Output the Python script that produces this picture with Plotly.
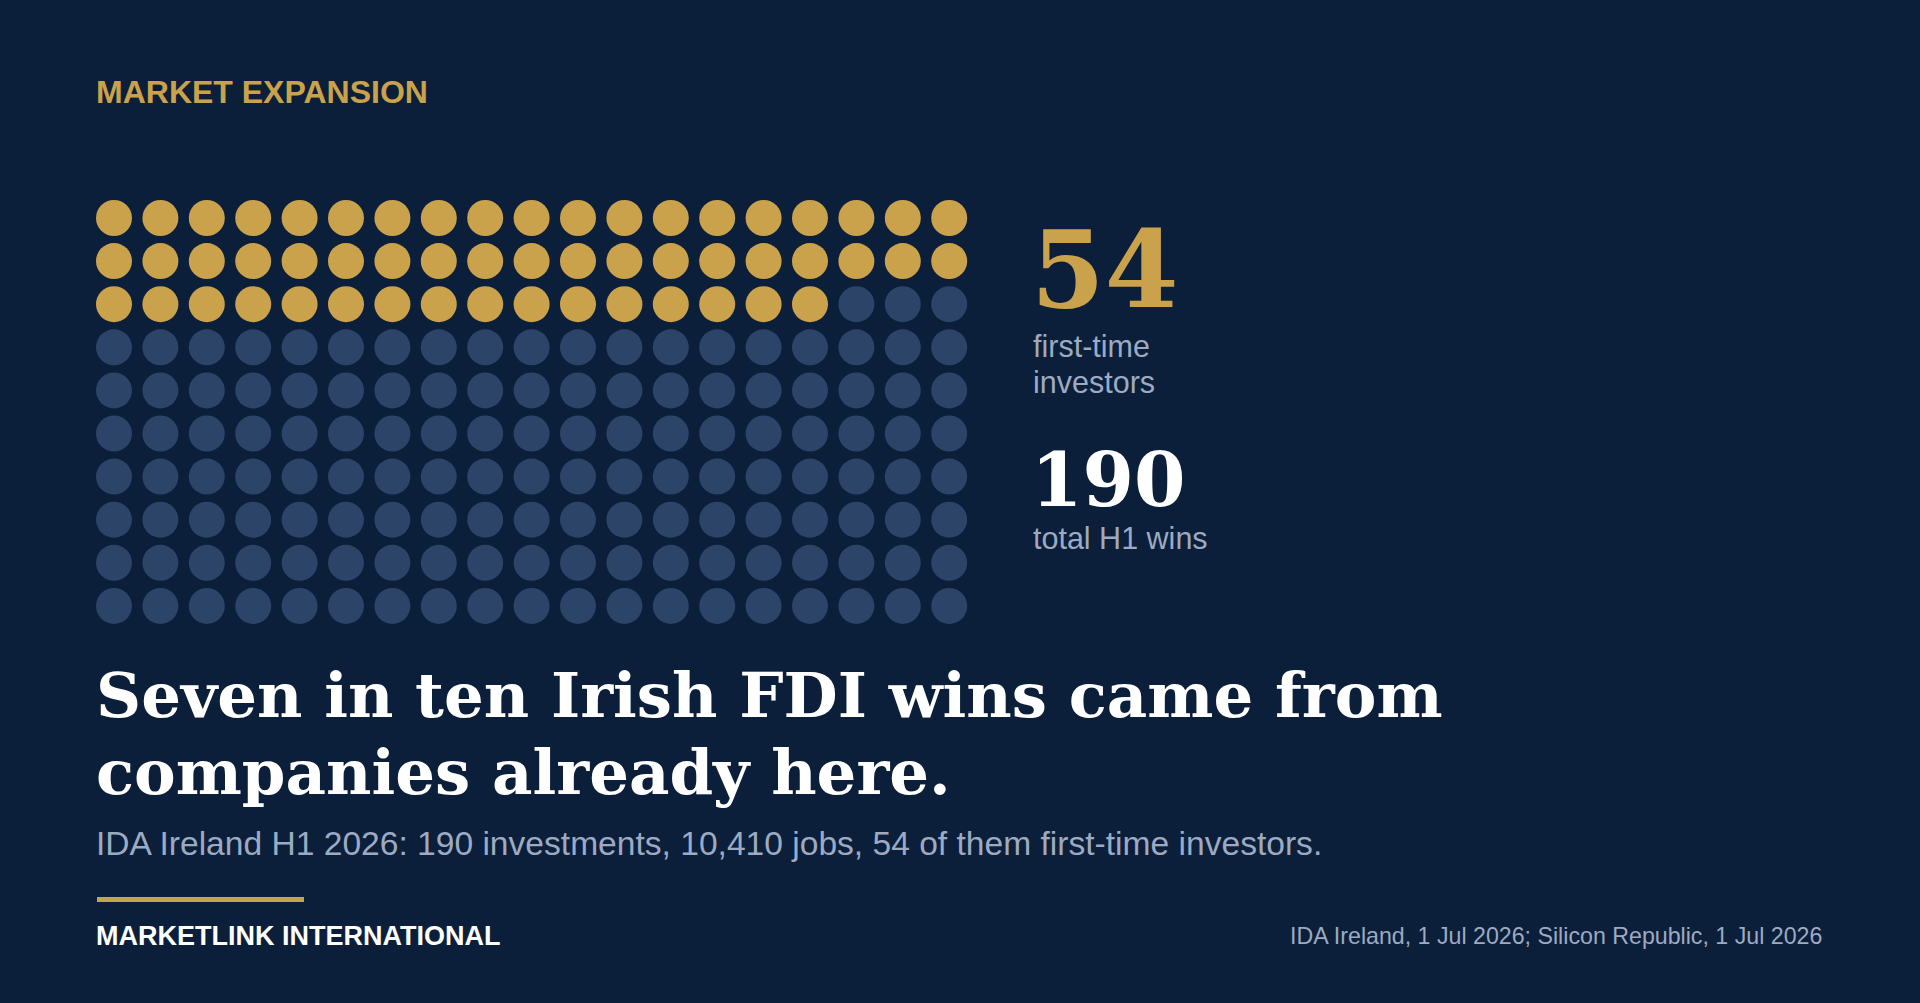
import plotly.graph_objects as go

# --- data ---
total_wins = 190
first_time = 54
grid_cols = 19
stat_values = ["54", "190"]
stat_labels = [["first-time", "investors"], ["total H1 wins"]]
kicker = "MARKET EXPANSION"
title_lines = ["Seven in ten Irish FDI wins came from", "companies already here."]
subtitle = "IDA Ireland H1 2026: 190 investments, 10,410 jobs, 54 of them first-time investors."
brand = "MARKETLINK INTERNATIONAL"
source = "IDA Ireland, 1 Jul 2026; Silicon Republic, 1 Jul 2026"

# --- look ---
W, H = 1920, 1003
BG = "#0B1F3A"
GOLD = "#C9A24B"
DOT_OFF = "#2B4468"
MUTED = "#9DAAC1"
WHITE = "#FFFFFF"
SANS = "Liberation Sans, Arial, sans-serif"
SERIF = "DejaVu Serif, serif"

# waffle grid placement (pixels)
GX0, GY0 = 114, 218      # centre of first dot
DX, DY = 46.4, 43.1       # spacing between dot centres
DOT = 36

idx = list(range(total_wins))
cols = [i % grid_cols for i in idx]
rows = [i // grid_cols for i in idx]
colors = [GOLD if i < first_time else DOT_OFF for i in idx]

fig = go.Figure()
fig.add_trace(go.Scatter(
    x=cols, y=rows, mode="markers",
    marker=dict(size=DOT, color=colors, line=dict(width=0)),
    hoverinfo="skip", showlegend=False,
))


def px(x):
    return x / W


def py(y):
    return 1 - y / H


def note(text, x, y, size, color, family=SANS, bold=False, xanchor="left"):
    # annotations carry ~2px of padding, pull them back so glyphs sit on x
    x = x - 2 if xanchor == "left" else x + 2
    fig.add_annotation(
        text=text, x=px(x), y=py(y), xref="paper", yref="paper",
        xanchor=xanchor, yanchor="middle", align=xanchor,
        showarrow=False, borderpad=0,
        font=dict(size=size, color=color, family=family, weight="bold" if bold else "normal"),
    )


note(kicker, 97, 92, 32, GOLD, bold=True)

# big stats to the right of the grid
note(stat_values[0], 1032, 269, 106, GOLD, family=SERIF, bold=True)
note(stat_labels[0][0], 1034, 346, 30.5, MUTED)
note(stat_labels[0][1], 1034, 382, 30.5, MUTED)
note(stat_values[1], 1032, 480, 74, WHITE, family=SERIF, bold=True)
note(stat_labels[1][0], 1034, 538, 30.5, MUTED)

# headline + deck
note(title_lines[0], 97, 695, 62.5, WHITE, family=SERIF, bold=True)
note(title_lines[1], 97, 772, 62.5, WHITE, family=SERIF, bold=True)
note(subtitle, 97, 843, 33.6, MUTED)

# footer
fig.add_shape(type="rect", xref="paper", yref="paper",
              x0=px(97), x1=px(304), y0=py(902), y1=py(897),
              fillcolor=GOLD, line=dict(width=0))
note(brand, 97, 936, 27, WHITE, bold=True)
note(source, 1821, 936, 23.2, MUTED, xanchor="right")

fig.update_layout(
    width=W, height=H,
    margin=dict(l=0, r=0, t=0, b=0),
    paper_bgcolor=BG, plot_bgcolor=BG,
    xaxis=dict(range=[-GX0 / DX, (W - GX0) / DX], visible=False, fixedrange=True),
    yaxis=dict(range=[(H - GY0) / DY, -GY0 / DY], visible=False, fixedrange=True),
)

fig.write_html("out.html", config={"displayModeBar": False},
               post_script="document.body.style.margin='0';")
